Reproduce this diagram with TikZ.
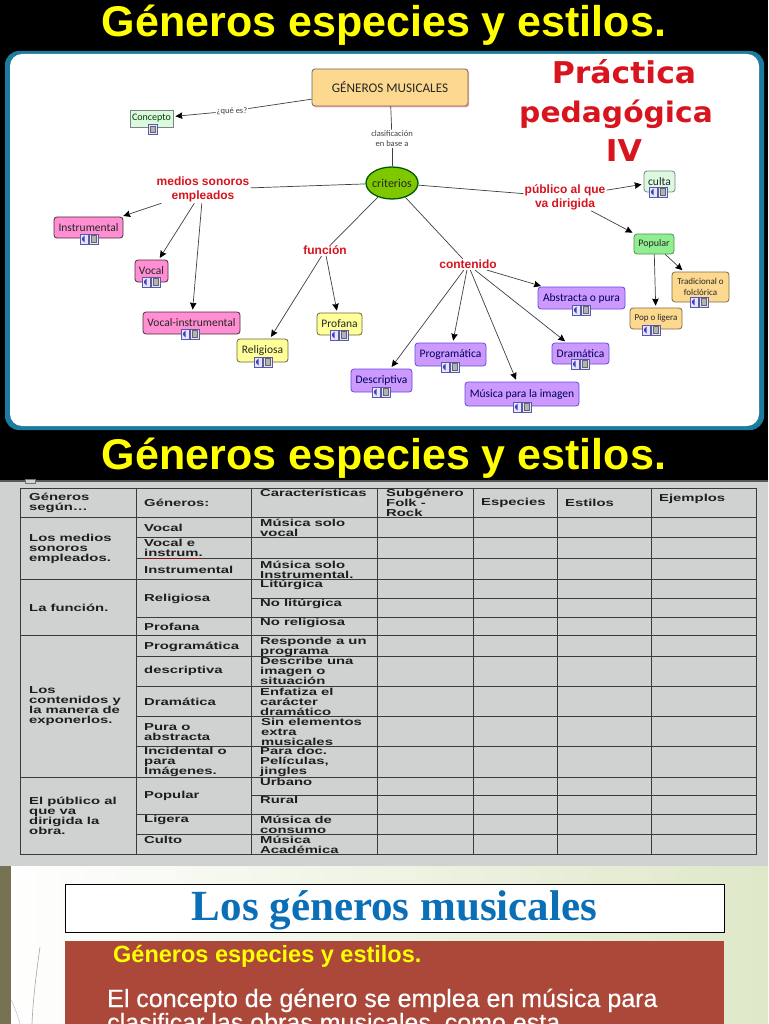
\documentclass[tikz,border=0pt]{standalone}
\usepackage{fontspec}
\usetikzlibrary{shapes.geometric,arrows.meta,shadows}
\setmainfont{Liberation Sans}
\newfontfamily\tabfont[FakeStretch=1.47]{Liberation Sans}
\newfontfamily\cmfont{Carlito}
\newfontfamily\pracfont[FakeStretch=1.05]{DejaVu Sans}
\newfontfamily\losfont{Liberation Serif}
\newfontfamily\medfont[FakeBold=0.35]{Liberation Sans}
\definecolor{titley}{HTML}{FFFF00}
\definecolor{frameb}{HTML}{1B7C9F}
\definecolor{tablebg}{HTML}{D0D2D1}
\definecolor{tline}{HTML}{3A3C3C}
\definecolor{ttext}{HTML}{1E1E1E}
\definecolor{redl}{HTML}{D8141E}
\definecolor{pinkn}{HTML}{FF8FD2}
\definecolor{yelln}{HTML}{FFFF99}
\definecolor{purpn}{HTML}{CC99FF}
\definecolor{orann}{HTML}{FDD98F}
\definecolor{greenn}{HTML}{90EE90}
\definecolor{paleg}{HTML}{DCF8E0}
\definecolor{brick}{HTML}{AC483A}
\definecolor{losblue}{HTML}{0B6FB8}
\definecolor{slideg}{HTML}{DFE8C9}
\definecolor{olive}{HTML}{787254}
\definecolor{crit}{HTML}{7FC800}
\tikzset{
  x=1pt,y=-1pt,
  bigtitle/.style={text=titley,font=\fontsize{43}{46}\selectfont\bfseries,inner sep=0pt},
  cmbox/.style={draw=#1,rounded corners=3pt,line width=.8pt,inner sep=0pt,font=\cmfont\fontsize{11.5}{12.5}\selectfont,align=center},
  pinkbox/.style={cmbox=black!70!pinkn,fill=pinkn,text=black!85},
  yellbox/.style={cmbox=black!60!yelln,fill=yelln,text=black!85},
  purpbox/.style={cmbox=black!30!blue!50!purpn,fill=purpn,text=black!40!blue!60!black},
  orabox/.style={cmbox=black!50!orann,fill=orann,text=black!85},
  grnbox/.style={cmbox=black!40!greenn,fill=greenn,text=black!85},
  palebox/.style={cmbox=black!45!paleg,fill=paleg,text=black!85},
  rlabel/.style={text=redl,font=\fontsize{12}{14}\selectfont\bfseries,align=center,inner sep=1pt},
  glabel/.style={text=black!75,font=\cmfont\fontsize{8.5}{10}\selectfont,align=center,inner sep=1pt,fill=white},
  link/.style={draw=black!75,line width=.7pt},
  arr/.style={link,-{Stealth[length=7pt,width=6.5pt,inset=.8pt,color=black]},shorten >=2pt},
  cell/.style={anchor=west,align=left,inner sep=0pt,text=ttext,font=\tabfont\fontsize{10.1}{10}\selectfont\bfseries},
  prac/.style={text=redl,font=\pracfont\fontsize{30}{32}\selectfont\bfseries,inner sep=0pt},
}
\newcommand{\mapicons}[2]{%
  \begin{scope}[shift={(#1,#2)}]
    \fill[blue!10,draw=blue!30!gray,line width=.3pt] (-9,-5) rectangle (-.5,5);
    \fill[blue!50!gray] (-7,-1) -- (-4.5,-3.5) -- (-4.5,3.5) -- (-7,1) -- cycle;
    \fill[blue!10,draw=blue!30!gray,line width=.3pt] (.5,-5) rectangle (9,5);
    \fill[gray!60,draw=black!60,line width=.3pt] (2.5,-3.5) rectangle (7,3.5);
  \end{scope}}
\begin{document}
\begin{tikzpicture}
\useasboundingbox (0,0) rectangle (768,1024);
\clip (0,0) rectangle (768,1024);
% backgrounds
\fill[black] (0,0) rectangle (768,480);
\fill[tablebg] (0,480) rectangle (768,866);
\fill[black!65] (0,480) rectangle (768,481.5);
\draw[black!55,line width=.5pt,fill=tablebg] (25.5,479) rectangle (35,483.5);
\shade[left color=white,right color=slideg] (0,866) rectangle (768,1024);
\fill[olive] (0,866) rectangle (11,1024);
\draw[gray!70,line width=.6pt] (40,947) .. controls (36,975) and (33,1000) .. (32,1024);
\draw[gray!50,line width=.5pt] (11,1000) .. controls (15,1008) and (18,1016) .. (20,1024);
% titles
\node[bigtitle] (t1) at (384,25) {Géneros especies y estilos.};
\node[bigtitle] (t2) at (384,458) {Géneros especies y estilos.};
% map panel
\fill[frameb,rounded corners=14pt] (5,51) rectangle (764,430);
\fill[white,rounded corners=12pt] (10,54) rectangle (759,426);
\node[prac] (pr1) at (624,72) {Práctica};
\node[prac,font=\pracfont\fontsize{28.3}{32}\selectfont\bfseries] (pr2) at (616,114) {pedagógica};
\node[prac] (pr3) at (624,151) {IV};
% concept nodes
\node[cmbox=black!60,fill=orann,minimum width=156pt,minimum height=37pt,rounded corners=3pt,
  general shadow={fill=pink!90!red,shadow xshift=1.2pt,shadow yshift=-1.5pt},text=black!85,
  font=\cmfont\fontsize{13.2}{14}\selectfont] (gm) at (390,87.5) {GÉNEROS MUSICALES};
\node[palebox,rounded corners=0pt,text=green!25!black,minimum width=43pt,minimum height=17pt,font=\cmfont\fontsize{10}{11}\selectfont] (con) at (151.5,118.5) {Concepto};
\node[glabel] (que) at (232,111) {¿qué es?};
\node[glabel] (cla) at (392,139) {clasificación\\en base a};
\node[ellipse,draw=green!35!black,line width=1.3pt,fill=crit,minimum width=52pt,minimum height=32pt,inner sep=0pt,
  font=\cmfont\fontsize{12}{13}\selectfont,text=black!85] (cri) at (392,183) {\makebox[0pt]{criterios}};
\node[rlabel] (med) at (203,189.5) {medios sonoros\\empleados};
\node[rlabel] (fun) at (325,250.5) {función};
\node[rlabel] (cont) at (468,264.5) {contenido};
\node[rlabel] (pub) at (565,197) {público al que\\va dirigida};
\node[pinkbox,minimum width=69pt,minimum height=21pt] (ins) at (88.5,227.5) {Instrumental};
\node[pinkbox,minimum width=33pt,minimum height=22pt] (voc) at (151.5,271) {Vocal};
\node[pinkbox,minimum width=97pt,minimum height=22pt] (vin) at (191.5,323) {Vocal-instrumental};
\node[yellbox,minimum width=51pt,minimum height=23pt] (rel) at (262.5,350.5) {Religiosa};
\node[yellbox,minimum width=45pt,minimum height=22pt] (pro) at (339.5,324) {Profana};
\node[purpbox,minimum width=61pt,minimum height=23pt] (des) at (381.5,380.5) {Descriptiva};
\node[purpbox,minimum width=71pt,minimum height=23pt] (prg) at (450.5,354.5) {Programática};
\node[purpbox,minimum width=114pt,minimum height=24pt] (mpi) at (522,394) {Música para la imagen};
\node[purpbox,minimum width=57pt,minimum height=21pt] (dra) at (580.5,353.5) {Dramática};
\node[purpbox,minimum width=87pt,minimum height=22pt] (abs) at (581.5,298) {Abstracta o pura};
\node[palebox,minimum width=31pt,minimum height=21pt] (cul) at (659.5,181.5) {culta};
\node[grnbox,minimum width=40pt,minimum height=20pt,font=\cmfont\fontsize{10}{11}\selectfont] (pop) at (654,244) {Popular};
\node[orabox,minimum width=57pt,minimum height=30pt,font=\cmfont\fontsize{9}{10.5}\selectfont] (tra) at (700.5,287) {Tradicional o\\folclórica};
\node[orabox,minimum width=52pt,minimum height=21pt,font=\cmfont\fontsize{9}{10.5}\selectfont] (pol) at (656,318.5) {Pop o ligera};
% connectors
\draw[link] (gm) -- (que);
\draw[arr] (que) -- (con);
\draw[link] (gm) -- (cla);
\draw[link] (cla) -- (cri);
\draw[link] (cri) -- (med);
\draw[arr] (med) -- (ins);
\draw[arr] (med) -- (voc);
\draw[arr] (med) -- (vin);
\draw[link] (cri) -- (fun);
\draw[arr] (fun) -- (rel);
\draw[arr] (fun) -- (pro);
\draw[link] (cri) -- (cont);
\draw[arr] (cont) -- (des);
\draw[arr] (cont) -- (prg);
\draw[arr] (cont) -- (mpi);
\draw[arr] (cont) -- (dra);
\draw[arr] (cont) -- (abs);
\draw[link] (cri) -- (pub);
\draw[arr] (pub) -- (cul);
\draw[arr] (pub) -- (pop);
\draw[arr] (pop) -- (tra);
\draw[arr] (pop) -- (pol);
% icons
\fill[blue!10,draw=blue!30!gray,line width=.3pt] (148,124) rectangle (157,134);
\fill[gray!60,draw=black!60,line width=.3pt] (150,126) rectangle (155,132);
\mapicons{89}{239}
\mapicons{151}{282}
\mapicons{190}{334}
\mapicons{263}{362}
\mapicons{339}{335}
\mapicons{381}{392}
\mapicons{450}{367}
\mapicons{522}{407}
\mapicons{580}{364}
\mapicons{581}{310}
\mapicons{658}{192}
\mapicons{699}{302}
\mapicons{651}{330}
% table grid
\begin{scope}[draw=tline,line width=.8pt]
\draw (20,488) rectangle (756,854);
\foreach \xx in {136,251,377,473,557,651} \draw (\xx,488) -- (\xx,854);
\foreach \yy in {517.5,579,635.5,777} \draw (20,\yy) -- (756,\yy);
\foreach \yy in {537.5,558.5,617,656,686,716,746,814,834} \draw (136,\yy) -- (756,\yy);
\foreach \yy in {598,795} \draw (251,\yy) -- (756,\yy);
\end{scope}
\draw[red!70!black,line width=.5pt,densely dotted] (145,558) -- (201,558);
% table text
\node[cell] (c01) at (29,503) {Géneros\\según…};
\node[cell] (c02) at (144,503) {Géneros:};
\node[cell] (c03) at (260,493) {Características};
\node[cell] (c04) at (386,503) {Subgénero\\Folk -\\Rock};
\node[cell] (c05) at (481,503) {Especies};
\node[cell] (c06) at (565,503) {Estilos};
\node[cell] (c07) at (659,499) {Ejemplos};
\node[cell] (c11) at (29,549) {Los medios\\sonoros\\empleados.};
\node[cell] (c12) at (29,608) {La función.};
\node[cell] (c13) at (29,706.5) {Los\\contenidos y\\la manera de\\exponerlos.};
\node[cell] (c14) at (29,816) {El público al\\que va\\dirigida la\\obra.};
\node[cell] (c21) at (144,528) {Vocal};
\node[cell] (c22) at (144,548) {Vocal e\\instrum.};
\node[cell] (c23) at (144,570) {Instrumental};
\node[cell] (c24) at (144,599) {Religiosa};
\node[cell] (c25) at (144,627) {Profana};
\node[cell] (c26) at (144,647) {Programática};
\node[cell] (c27) at (144,671) {descriptiva};
\node[cell] (c28) at (144,702) {Dramática};
\node[cell] (c29) at (144,732) {Pura o\\abstracta};
\node[cell] (c2a) at (144,762) {Incidental o\\para\\Imágenes.};
\node[cell] (c2b) at (144,796) {Popular};
\node[cell] (c2c) at (144,820) {Ligera};
\node[cell] (c2d) at (144,840) {Culto};
\node[cell] (c31) at (260,528) {Música solo\\vocal};
\node[cell] (c32) at (260,570) {Música solo\\Instrumental.};
\node[cell] (c33) at (260,585) {Litúrgica};
\node[cell] (c34) at (260,604) {No litúrgica};
\node[cell] (c35) at (260,623) {No religiosa};
\node[cell] (c36) at (260,647) {Responde a un\\programa};
\node[cell] (c37) at (260,671) {Describe una\\imagen o\\situación};
\node[cell] (c38) at (260,702) {Enfatiza el\\carácter\\dramático};
\node[cell] (c39) at (261,732) {Sin elementos\\extra\\musicales};
\node[cell] (c3a) at (260,762) {Para doc.\\Películas,\\jingles};
\node[cell] (c3b) at (260,782) {Urbano};
\node[cell] (c3c) at (260,800) {Rural};
\node[cell] (c3d) at (260,825) {Música de\\consumo};
\node[cell] (c3e) at (260,845) {Música\\Académica};
% bottom slide
\node[draw=black,line width=.8pt,fill=white,minimum width=659pt,minimum height=48pt,inner sep=0pt,
  text=losblue,font=\losfont\fontsize{43}{46}\selectfont\bfseries] (los) at (394.5,908) {\raisebox{-12pt}[0pt][0pt]{Los géneros musicales}};
\fill[brick] (65,941) rectangle (724,1030);
\node[anchor=base west,inner sep=0pt,text=titley,font=\fontsize{23.5}{26}\selectfont\bfseries] (s1) at (113,962) {Géneros especies y estilos.};
\node[anchor=base west,inner sep=0pt,text=white,font=\medfont\fontsize{25}{27}\selectfont] (s2) at (107,1007) {El concepto de género se emplea en música para};
\node[anchor=base west,inner sep=0pt,text=white,font=\medfont\fontsize{25}{27}\selectfont] (s3) at (107,1031) {clasificar las obras musicales, como esta};
\end{tikzpicture}
\end{document}
